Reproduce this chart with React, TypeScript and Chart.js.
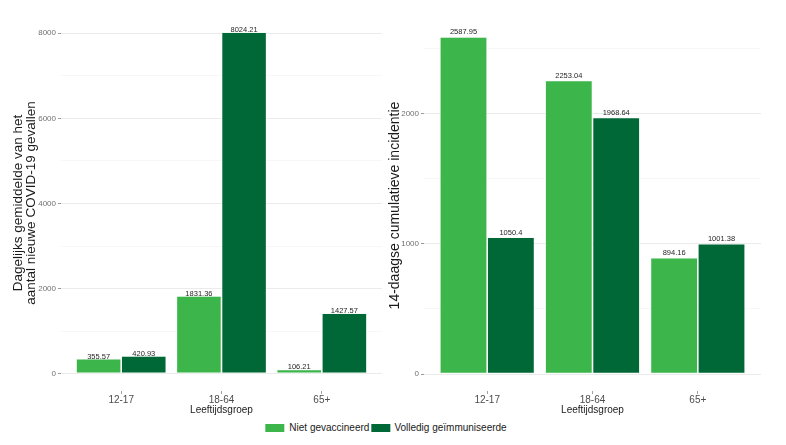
import React, { useEffect, useRef } from "react";
import { Chart, registerables } from "chart.js";

Chart.register(...registerables);

const FONT = "'Liberation Sans', Arial, Helvetica, sans-serif";

const categories = ["12-17", "18-64", "65+"];
const seriesNames = ["Niet gevaccineerd", "Volledig geïmmuniseerde"];
const seriesColors = ["#3cb54b", "#006837"];

const dailyUnvaccinated = [355.57, 1831.36, 106.21];
const dailyVaccinated = [420.93, 8024.21, 1427.57];

const incidenceUnvaccinated = [2587.95, 2253.04, 894.16];
const incidenceVaccinated = [1050.4, 1968.64, 1001.38];

const leftTicks = [0, 1000, 2000, 3000, 4000, 5000, 6000, 7000, 8000];
const leftMajorTicks = [0, 2000, 4000, 6000, 8000];
const rightTicks = [0, 500, 1000, 1500, 2000, 2500];
const rightMajorTicks = [0, 1000, 2000];

const leftTitle = ["Dagelijks gemiddelde van het", "aantal nieuwe COVID-19 gevallen"];
const rightTitle = "14-daagse cumulatieve incidentie";
const xTitle = "Leeftijdsgroep";

const valueLabels = {
  id: "valueLabels",
  afterDatasetsDraw(chart: any, _args: any, opts: any) {
    const ctx = chart.ctx;
    ctx.save();
    ctx.font = `7.5px ${FONT}`;
    ctx.fillStyle = "#262626";
    ctx.textAlign = "center";
    ctx.textBaseline = "alphabetic";
    chart.data.datasets.forEach((ds: any, i: number) => {
      const meta = chart.getDatasetMeta(i);
      meta.data.forEach((el: any, j: number) => {
        const v = ds.data[j].y;
        ctx.fillText(String(v), el.x, el.y - (opts.offset || 0));
      });
    });
    ctx.restore();
  },
};

function makeConfig(p: {
  a: number[];
  b: number[];
  ticks: number[];
  major: number[];
  title: string | string[];
  titleSize: number;
  titlePad: number;
  yWidth: number;
  padTop: number;
  padRight: number;
  labelOffset: number;
}): any {
  const maxV = Math.max(...p.a, ...p.b);
  const expand = maxV * 0.05;
  const isMajor = (v: any) => p.major.includes(v);
  return {
    type: "bar",
    data: {
      datasets: [p.a, p.b].map((vals, k) => ({
        label: seriesNames[k],
        data: categories.map((_, i) => ({ x: i, y: vals[i] })),
        backgroundColor: seriesColors[k],
        borderColor: "#f4fbf4",
        borderWidth: 0.8,
        borderSkipped: false,
        categoryPercentage: 0.9,
        barPercentage: 1.0,
      })),
    },
    options: {
      responsive: false,
      animation: false,
      layout: { padding: { top: p.padTop, right: p.padRight, bottom: 0, left: 0 } },
      plugins: {
        legend: { display: false },
        tooltip: { enabled: false },
        valueLabels: { offset: p.labelOffset },
      },
      scales: {
        x: {
          type: "linear",
          bounds: "data",
          offset: false,
          min: -0.6,
          max: 2.6,
          afterBuildTicks: (s: any) => {
            s.ticks = categories.map((_, i) => ({ value: i }));
          },
          afterFit: (s: any) => {
            s.height = 25;
          },
          grid: {
            offset: false,
            drawOnChartArea: false,
            drawTicks: true,
            tickLength: 3,
            color: "#a0a0a0",
            tickColor: "#a0a0a0",
          },
          border: { display: false },
          ticks: {
            autoSkip: false,
            maxRotation: 0,
            padding: 0,
            color: "#4d4d4d",
            font: { size: 10, family: FONT },
            callback: (_v: any, idx: number) => categories[idx],
          },
          title: {
            display: true,
            text: xTitle,
            color: "#1a1a1a",
            font: { size: 10, family: FONT, lineHeight: 1.2 },
            padding: { top: 0, bottom: 0 },
          },
        },
        y: {
          type: "linear",
          bounds: "data",
          min: -expand,
          max: maxV + expand,
          afterBuildTicks: (s: any) => {
            s.ticks = p.ticks.map((v) => ({ value: v }));
          },
          afterFit: (s: any) => {
            s.width = p.yWidth;
          },
          grid: {
            drawTicks: true,
            tickLength: 3,
            color: (c: any) => (isMajor(c.tick?.value) ? "#ebebeb" : "#f4f4f4"),
            lineWidth: (c: any) => (isMajor(c.tick?.value) ? 1 : 0.7),
            tickColor: (c: any) => (isMajor(c.tick?.value) ? "#9a9a9a" : "rgba(0,0,0,0)"),
          },
          border: { display: false },
          ticks: {
            autoSkip: false,
            padding: 2,
            color: "#707070",
            font: { size: 8, family: FONT },
            callback: (v: any) => (isMajor(v) ? String(v) : ""),
          },
          title: {
            display: true,
            text: p.title,
            color: "#1a1a1a",
            font: { size: p.titleSize, family: FONT, lineHeight: 1 },
            padding: { top: p.titlePad, bottom: 0 },
          },
        },
      },
    },
    plugins: [valueLabels],
  };
}

export default function App() {
  const leftRef = useRef<HTMLCanvasElement>(null);
  const rightRef = useRef<HTMLCanvasElement>(null);

  useEffect(() => {
    Chart.defaults.font.family = FONT;
    const left = new Chart(
      leftRef.current as HTMLCanvasElement,
      makeConfig({
        a: dailyUnvaccinated,
        b: dailyVaccinated,
        ticks: leftTicks,
        major: leftMajorTicks,
        title: leftTitle,
        titleSize: 13.5,
        titlePad: 11.5,
        yWidth: 61,
        padTop: 15,
        padRight: 4,
        labelOffset: 0,
      })
    );
    const right = new Chart(
      rightRef.current as HTMLCanvasElement,
      makeConfig({
        a: incidenceUnvaccinated,
        b: incidenceVaccinated,
        ticks: rightTicks,
        major: rightMajorTicks,
        title: rightTitle,
        titleSize: 14,
        titlePad: 8.5,
        yWidth: 44,
        padTop: 20,
        padRight: 25,
        labelOffset: 2.5,
      })
    );
    return () => {
      left.destroy();
      right.destroy();
    };
  }, []);

  return (
    <div
      style={{
        position: "absolute",
        left: 0,
        top: 0,
        width: 786,
        height: 445,
        background: "#ffffff",
        fontFamily: FONT,
        overflow: "hidden",
      }}
    >
      <canvas
        ref={leftRef}
        width={386}
        height={416}
        style={{ position: "absolute", left: 0, top: 0, width: 386, height: 416 }}
      />
      <canvas
        ref={rightRef}
        width={406}
        height={416}
        style={{ position: "absolute", left: 380, top: 0, width: 406, height: 416 }}
      />
      <div
        style={{
          position: "absolute",
          left: 386,
          top: 420,
          transform: "translateX(-50%)",
          display: "flex",
          alignItems: "center",
          whiteSpace: "nowrap",
          fontSize: 10,
          color: "#1a1a1a",
          lineHeight: "16px",
        }}
      >
        {seriesNames.map((name, k) => (
          <div key={name} style={{ display: "flex", alignItems: "center", marginRight: k === 0 ? 2 : 0 }}>
            <span
              style={{
                display: "inline-block",
                width: 19,
                height: 8,
                background: seriesColors[k],
                marginRight: k === 0 ? 5 : 4,
              }}
            />
            <span>{name}</span>
          </div>
        ))}
      </div>
    </div>
  );
}
